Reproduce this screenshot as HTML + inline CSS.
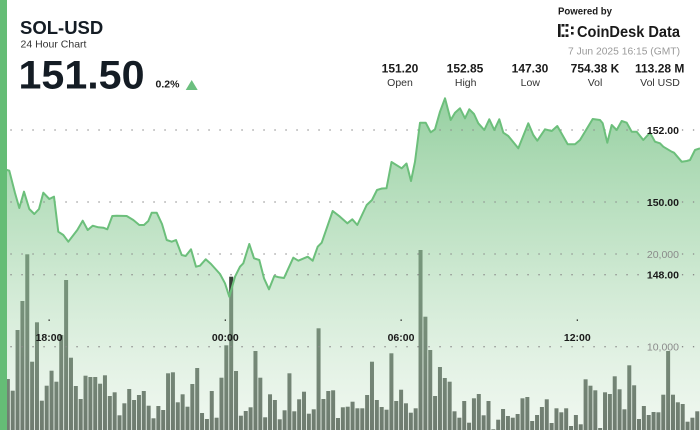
<!DOCTYPE html>
<html><head><meta charset="utf-8"><style>
html,body{margin:0;padding:0;background:#fff;}
svg{display:block;font-family:"Liberation Sans",sans-serif;}
</style></head><body>
<svg width="700" height="430" viewBox="0 0 700 430" xmlns="http://www.w3.org/2000/svg">
<defs>
<linearGradient id="fg" gradientUnits="userSpaceOnUse" x1="0" y1="98" x2="0" y2="430">
<stop offset="0" stop-color="rgb(110,190,125)" stop-opacity="0.72"/>
<stop offset="0.46" stop-color="rgb(160,212,168)" stop-opacity="0.6"/>
<stop offset="1" stop-color="rgb(212,234,213)" stop-opacity="0.36"/>
</linearGradient>
</defs>
<rect width="700" height="430" fill="#fff"/>
<g fill="#363e37">
<rect x="5.85" y="379" width="4" height="61"/><rect x="10.71" y="390.7" width="4" height="50"/><rect x="15.56" y="330" width="4" height="110"/><rect x="20.42" y="301" width="4" height="139"/><rect x="25.27" y="254.3" width="4" height="186"/><rect x="30.13" y="361.7" width="4" height="79"/><rect x="34.98" y="322.3" width="4" height="118"/><rect x="39.84" y="400.7" width="4" height="40"/><rect x="44.69" y="385.7" width="4" height="55"/><rect x="49.55" y="370.7" width="4" height="70"/><rect x="54.4" y="381.7" width="4" height="59"/><rect x="59.26" y="335" width="4" height="105"/><rect x="64.11" y="280" width="4" height="160"/><rect x="68.97" y="357.7" width="4" height="83"/><rect x="73.82" y="386" width="4" height="54"/><rect x="78.68" y="399" width="4" height="41"/><rect x="83.53" y="375.7" width="4" height="65"/><rect x="88.39" y="377" width="4" height="63"/><rect x="93.24" y="377" width="4" height="63"/><rect x="98.1" y="383.7" width="4" height="57"/><rect x="102.95" y="375.3" width="4" height="65"/><rect x="107.81" y="396" width="4" height="44"/><rect x="112.66" y="392.3" width="4" height="48"/><rect x="117.52" y="415.3" width="4" height="25"/><rect x="122.37" y="403.3" width="4" height="37"/><rect x="127.23" y="389" width="4" height="51"/><rect x="132.08" y="400" width="4" height="40"/><rect x="136.94" y="395" width="4" height="45"/><rect x="141.79" y="391" width="4" height="49"/><rect x="146.65" y="405.7" width="4" height="35"/><rect x="151.5" y="418.3" width="4" height="22"/><rect x="156.36" y="406" width="4" height="34"/><rect x="161.21" y="410" width="4" height="30"/><rect x="166.07" y="373.3" width="4" height="67"/><rect x="170.92" y="372.3" width="4" height="68"/><rect x="175.78" y="402.3" width="4" height="38"/><rect x="180.63" y="394.3" width="4" height="46"/><rect x="185.49" y="406.7" width="4" height="34"/><rect x="190.34" y="384" width="4" height="56"/><rect x="195.2" y="368" width="4" height="72"/><rect x="200.05" y="413" width="4" height="27"/><rect x="204.91" y="419" width="4" height="21"/><rect x="209.76" y="391" width="4" height="49"/><rect x="214.62" y="417.7" width="4" height="23"/><rect x="219.47" y="377.7" width="4" height="63"/><rect x="224.33" y="345.3" width="4" height="95"/><rect x="229.18" y="276.7" width="4" height="164"/><rect x="234.04" y="371" width="4" height="69"/><rect x="238.89" y="415.7" width="4" height="25"/><rect x="243.75" y="411" width="4" height="29"/><rect x="248.6" y="407.3" width="4" height="33"/><rect x="253.46" y="351" width="4" height="89"/><rect x="258.31" y="377.7" width="4" height="63"/><rect x="263.17" y="417.3" width="4" height="23"/><rect x="268.02" y="394.3" width="4" height="46"/><rect x="272.88" y="400" width="4" height="40"/><rect x="277.73" y="419.3" width="4" height="21"/><rect x="282.59" y="410.3" width="4" height="30"/><rect x="287.44" y="373.3" width="4" height="67"/><rect x="292.3" y="411.3" width="4" height="29"/><rect x="297.15" y="399.3" width="4" height="41"/><rect x="302.01" y="391.7" width="4" height="49"/><rect x="306.86" y="413.7" width="4" height="27"/><rect x="311.72" y="409.3" width="4" height="31"/><rect x="316.57" y="328.3" width="4" height="112"/><rect x="321.43" y="399" width="4" height="41"/><rect x="326.28" y="391" width="4" height="49"/><rect x="331.14" y="390.3" width="4" height="50"/><rect x="335.99" y="418" width="4" height="22"/><rect x="340.85" y="407.3" width="4" height="33"/><rect x="345.7" y="406.7" width="4" height="34"/><rect x="350.56" y="401.7" width="4" height="39"/><rect x="355.41" y="408.3" width="4" height="32"/><rect x="360.27" y="408.3" width="4" height="32"/><rect x="365.12" y="395" width="4" height="45"/><rect x="369.98" y="361.7" width="4" height="79"/><rect x="374.83" y="400" width="4" height="40"/><rect x="379.69" y="407" width="4" height="33"/><rect x="384.54" y="409.7" width="4" height="31"/><rect x="389.4" y="353.3" width="4" height="87"/><rect x="394.25" y="401" width="4" height="39"/><rect x="399.11" y="389.7" width="4" height="51"/><rect x="403.96" y="403.3" width="4" height="37"/><rect x="408.82" y="412.7" width="4" height="28"/><rect x="413.67" y="408.3" width="4" height="32"/><rect x="418.53" y="250" width="4" height="190"/><rect x="423.38" y="316.7" width="4" height="124"/><rect x="428.24" y="350" width="4" height="90"/><rect x="433.09" y="396" width="4" height="44"/><rect x="437.95" y="367" width="4" height="73"/><rect x="442.8" y="378" width="4" height="62"/><rect x="447.66" y="381.7" width="4" height="59"/><rect x="452.51" y="411.3" width="4" height="29"/><rect x="457.37" y="417.7" width="4" height="23"/><rect x="462.22" y="401" width="4" height="39"/><rect x="467.08" y="422.7" width="4" height="18"/><rect x="471.93" y="398.3" width="4" height="42"/><rect x="476.79" y="394" width="4" height="46"/><rect x="481.64" y="415.3" width="4" height="25"/><rect x="486.5" y="401" width="4" height="39"/><rect x="491.35" y="429.3" width="4" height="11"/><rect x="496.21" y="419.7" width="4" height="21"/><rect x="501.06" y="409" width="4" height="31"/><rect x="505.92" y="416" width="4" height="24"/><rect x="510.77" y="417.7" width="4" height="23"/><rect x="515.63" y="414" width="4" height="26"/><rect x="520.48" y="398.3" width="4" height="42"/><rect x="525.34" y="397" width="4" height="43"/><rect x="530.19" y="421" width="4" height="19"/><rect x="535.05" y="415" width="4" height="25"/><rect x="539.9" y="407" width="4" height="33"/><rect x="544.76" y="399.3" width="4" height="41"/><rect x="549.61" y="423" width="4" height="17"/><rect x="554.47" y="408.3" width="4" height="32"/><rect x="559.32" y="412.3" width="4" height="28"/><rect x="564.18" y="408.3" width="4" height="32"/><rect x="569.03" y="426" width="4" height="14"/><rect x="573.89" y="415" width="4" height="25"/><rect x="578.74" y="424.3" width="4" height="16"/><rect x="583.6" y="379.3" width="4" height="61"/><rect x="588.45" y="385.7" width="4" height="55"/><rect x="593.31" y="390.3" width="4" height="50"/><rect x="598.16" y="428" width="4" height="12"/><rect x="603.02" y="392.3" width="4" height="48"/><rect x="607.87" y="394" width="4" height="46"/><rect x="612.73" y="376.3" width="4" height="64"/><rect x="617.58" y="389.3" width="4" height="51"/><rect x="622.44" y="409.3" width="4" height="31"/><rect x="627.29" y="365.3" width="4" height="75"/><rect x="632.15" y="385.3" width="4" height="55"/><rect x="637" y="419" width="4" height="21"/><rect x="641.86" y="406" width="4" height="34"/><rect x="646.71" y="415" width="4" height="25"/><rect x="651.57" y="412" width="4" height="28"/><rect x="656.42" y="412.3" width="4" height="28"/><rect x="661.28" y="394.7" width="4" height="46"/><rect x="666.13" y="351" width="4" height="89"/><rect x="670.99" y="394.7" width="4" height="46"/><rect x="675.84" y="402.3" width="4" height="38"/><rect x="680.7" y="404" width="4" height="36"/><rect x="685.55" y="421.7" width="4" height="19"/><rect x="690.41" y="417.7" width="4" height="23"/><rect x="695.26" y="411.3" width="4" height="29"/>
</g>
<path fill="url(#fg)" d="M5,170 L7,170 L9.3,170.7 L15,193 L19.3,208 L24,191.7 L29.3,209 L34.3,214 L39,209 L43.3,192.7 L49.3,199 L54,196.7 L58.3,231.7 L63.3,235 L68.3,241.7 L77.3,230 L82.7,220.7 L87.7,230 L92.7,225.7 L98.3,227.3 L103.3,227.7 L107.3,229.3 L112.3,216 L116.7,215.7 L126.7,216 L133.3,220 L139.3,225 L144,225 L148.3,221 L151.7,212.7 L156.7,212.7 L162,224 L166.7,240 L171.7,241.7 L176,240 L181.7,255 L185.7,256 L191,249.3 L196,266.7 L200,265.7 L205.7,259.3 L211,264 L220,274 L225,283.3 L229.3,296.7 L235,276.7 L240,266.7 L243.3,263.3 L249.3,244 L254,258.3 L259.3,260 L264,278.3 L269,289.3 L274.3,276 L279,277.3 L284,278 L293.3,257.7 L298.3,260.7 L307.7,256.7 L312.7,260.7 L317.7,246.7 L321.7,242.7 L332.7,211 L340,216.7 L347.3,223.3 L352.3,219.3 L357.3,225 L366.7,205 L372,200 L377,190 L382,188.5 L386.5,188.3 L391.5,162 L401.7,168.3 L406.5,163.5 L411,181 L415,161.7 L420,122.7 L425.7,122.7 L430.7,132.3 L435,129.3 L440,111.7 L445,98.3 L450.7,120 L455,112.7 L460,108.3 L465,118.3 L469.3,109.3 L474,114 L478.3,123.3 L484.3,130 L489.3,119.3 L494.3,130 L499.3,119.3 L503.3,132.7 L508.3,136 L518.3,148.3 L528.3,123.3 L533.3,135 L537.3,140.7 L545,129.3 L551.7,131 L557.3,126 L567.7,144.3 L575,144.3 L580,140 L592.7,119 L600,120 L602.7,123.3 L607.3,142.7 L611.7,125 L616.7,130 L621.7,121 L626.7,122.7 L631.7,131.7 L636.7,131.7 L643.3,140 L650,132.7 L655,141.7 L660,143.3 L663.3,146.7 L671.7,151.7 L674,152.7 L681.7,161.7 L686.7,161 L690,160 L695,150 L700,148.3 L700,440 L5,440 Z"/>
<g stroke="#8a8a8a" stroke-width="1.3" stroke-dasharray="1.3 9.7" fill="none">
<line x1="10.4" y1="130" x2="644" y2="130"/><line x1="681.9" y1="130" x2="700" y2="130"/>
<line x1="10.4" y1="202" x2="644" y2="202"/><line x1="681.9" y1="202" x2="700" y2="202"/>
<line x1="10.4" y1="254" x2="644" y2="254"/><line x1="681.9" y1="254" x2="700" y2="254"/>
<line x1="10.4" y1="274.7" x2="644" y2="274.7"/><line x1="681.9" y1="274.7" x2="700" y2="274.7"/>
<line x1="10.4" y1="346.7" x2="644" y2="346.7"/><line x1="681.9" y1="346.7" x2="700" y2="346.7"/>
</g>
<path fill="none" stroke="#6cbf7b" stroke-width="2" stroke-linejoin="round" d="M5,170 L7,170 L9.3,170.7 L15,193 L19.3,208 L24,191.7 L29.3,209 L34.3,214 L39,209 L43.3,192.7 L49.3,199 L54,196.7 L58.3,231.7 L63.3,235 L68.3,241.7 L77.3,230 L82.7,220.7 L87.7,230 L92.7,225.7 L98.3,227.3 L103.3,227.7 L107.3,229.3 L112.3,216 L116.7,215.7 L126.7,216 L133.3,220 L139.3,225 L144,225 L148.3,221 L151.7,212.7 L156.7,212.7 L162,224 L166.7,240 L171.7,241.7 L176,240 L181.7,255 L185.7,256 L191,249.3 L196,266.7 L200,265.7 L205.7,259.3 L211,264 L220,274 L225,283.3 L229.3,296.7 L235,276.7 L240,266.7 L243.3,263.3 L249.3,244 L254,258.3 L259.3,260 L264,278.3 L269,289.3 L274.3,276 L279,277.3 L284,278 L293.3,257.7 L298.3,260.7 L307.7,256.7 L312.7,260.7 L317.7,246.7 L321.7,242.7 L332.7,211 L340,216.7 L347.3,223.3 L352.3,219.3 L357.3,225 L366.7,205 L372,200 L377,190 L382,188.5 L386.5,188.3 L391.5,162 L401.7,168.3 L406.5,163.5 L411,181 L415,161.7 L420,122.7 L425.7,122.7 L430.7,132.3 L435,129.3 L440,111.7 L445,98.3 L450.7,120 L455,112.7 L460,108.3 L465,118.3 L469.3,109.3 L474,114 L478.3,123.3 L484.3,130 L489.3,119.3 L494.3,130 L499.3,119.3 L503.3,132.7 L508.3,136 L518.3,148.3 L528.3,123.3 L533.3,135 L537.3,140.7 L545,129.3 L551.7,131 L557.3,126 L567.7,144.3 L575,144.3 L580,140 L592.7,119 L600,120 L602.7,123.3 L607.3,142.7 L611.7,125 L616.7,130 L621.7,121 L626.7,122.7 L631.7,131.7 L636.7,131.7 L643.3,140 L650,132.7 L655,141.7 L660,143.3 L663.3,146.7 L671.7,151.7 L674,152.7 L681.7,161.7 L686.7,161 L690,160 L695,150 L700,148.3"/>
<!-- axis labels -->
<g font-size="10.5" text-anchor="end">
<text x="679" y="133.8" font-weight="bold" fill="#1a1a1a">152.00</text>
<text x="679" y="205.8" font-weight="bold" fill="#1a1a1a">150.00</text>
<text x="679" y="257.8" fill="#8a8a8a">20,000</text>
<text x="679" y="278.5" font-weight="bold" fill="#1a1a1a">148.00</text>
<text x="679" y="350.5" fill="#8a8a8a">10,000</text>
</g>
<g fill="#1a1a1a">
<rect x="48.5" y="319.5" width="1.3" height="1.3"/><rect x="224.7" y="319.5" width="1.3" height="1.3"/><rect x="400.5" y="319.5" width="1.3" height="1.3"/><rect x="576.7" y="319.5" width="1.3" height="1.3"/>
</g>
<g font-size="10.5" font-weight="bold" text-anchor="middle" fill="#1a1a1a">
<text x="49" y="340.8">18:00</text>
<text x="225.3" y="340.8">00:00</text>
<text x="401" y="340.8">06:00</text>
<text x="577.3" y="340.8">12:00</text>
</g>
<!-- left bar -->
<rect x="0" y="0" width="7" height="430" fill="#65bd76"/>
<!-- header -->
<text x="20" y="34" font-size="18.5" font-weight="bold" fill="#141c24">SOL-USD</text>
<text x="20.5" y="47.3" font-size="10.5" fill="#333">24 Hour Chart</text>
<text x="18.5" y="88.3" font-size="40" font-weight="bold" fill="#141c24" textLength="126" lengthAdjust="spacingAndGlyphs">151.50</text>
<text x="155.5" y="87.3" font-size="10.5" font-weight="bold" fill="#1a1a1a">0.2%</text>
<polygon points="185.7,90 191.7,80 197.7,90" fill="#6cbf7f"/>
<text x="558" y="14.5" font-size="10" font-weight="bold" fill="#1a1a1a" textLength="54" lengthAdjust="spacingAndGlyphs">Powered by</text>
<g fill="#1a1a1a">
<rect x="558" y="24" width="2.6" height="13"/>
<rect x="561.5" y="24" width="3" height="2.6"/><rect x="565.5" y="24" width="3" height="2.6"/>
<rect x="561.5" y="34.4" width="3" height="2.6"/><rect x="565.5" y="34.4" width="3" height="2.6"/>
<rect x="565.5" y="29.2" width="2.6" height="2.6"/>
<rect x="571" y="26.5" width="2.6" height="2.6"/><rect x="571" y="32" width="2.6" height="2.6"/>
</g>
<text x="577" y="37" font-size="16" font-weight="bold" fill="#1a1a1a" textLength="103" lengthAdjust="spacingAndGlyphs">CoinDesk Data</text>
<text x="680" y="54.3" font-size="10" fill="#9a9a9a" text-anchor="end" textLength="112" lengthAdjust="spacingAndGlyphs">7 Jun 2025 16:15 (GMT)</text>
<g font-size="12" font-weight="bold" fill="#1a1a1a" text-anchor="middle">
<text x="400" y="72.7">151.20</text>
<text x="465" y="72.7">152.85</text>
<text x="530" y="72.7">147.30</text>
<text x="595" y="72.7">754.38 K</text>
<text x="659.7" y="72.7">113.28 M</text>
</g>
<g font-size="10.5" fill="#333" text-anchor="middle">
<text x="400" y="86">Open</text>
<text x="465.7" y="86">High</text>
<text x="530.3" y="86">Low</text>
<text x="595" y="86">Vol</text>
<text x="660" y="86">Vol USD</text>
</g>
</svg>
</body></html>
